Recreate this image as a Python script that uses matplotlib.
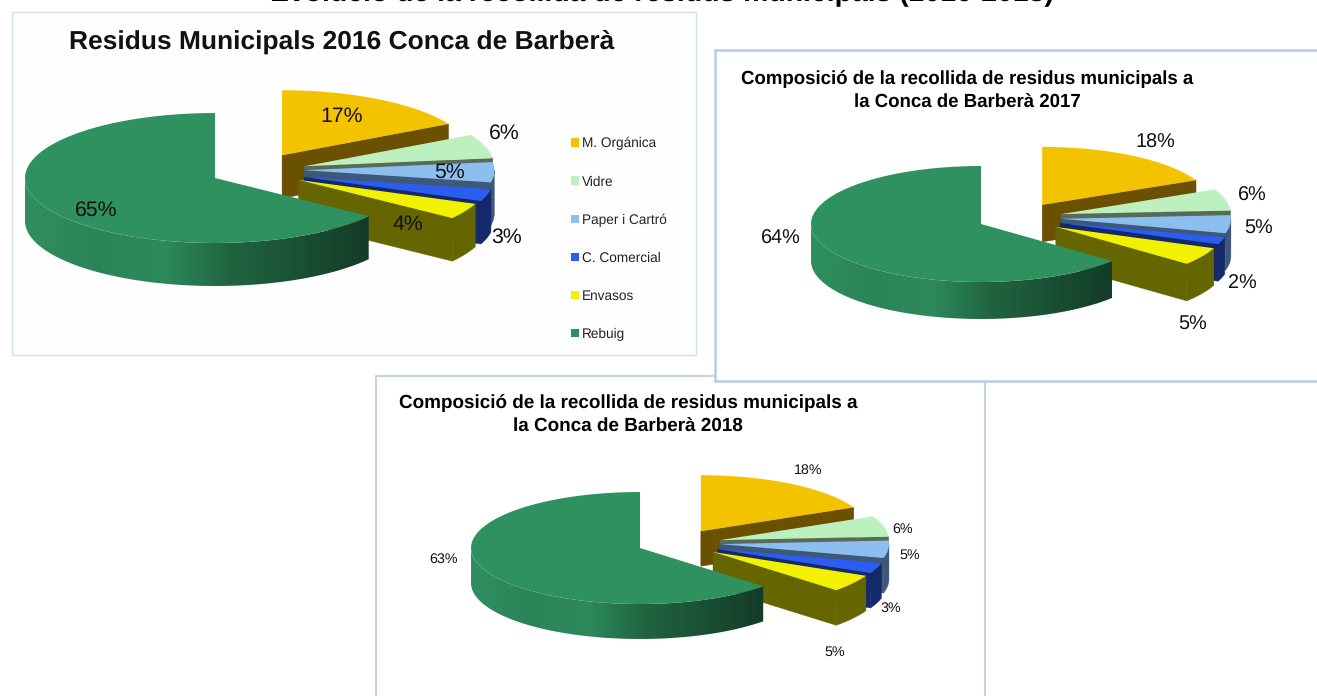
import numpy as np
import matplotlib
matplotlib.use("Agg")
import matplotlib.pyplot as plt
from matplotlib.patches import Patch, Polygon, Rectangle
from matplotlib.colors import LinearSegmentedColormap

plt.rcParams['font.family'] = ['Liberation Sans', 'DejaVu Sans']
plt.rcParams['text.hinting'] = 'no_hinting'

categories = ['M. Orgánica', 'Vidre', 'Paper i Cartró', 'C. Comercial', 'Envasos', 'Rebuig']
values_2016 = [17, 6, 5, 3, 4, 65]
values_2017 = [18, 6, 5, 2, 5, 64]
values_2018 = [18, 6, 5, 3, 5, 63]

main_title = 'Evolució de la recollida de residus municipals (2016-2018)'
title_2016 = 'Residus Municipals 2016 Conca de Barberà'
title_2017 = 'Composició de la recollida de residus municipals a\nla Conca de Barberà 2017'
title_2018 = 'Composició de la recollida de residus municipals a\nla Conca de Barberà 2018'

top_colors = ['#F4C300', '#BDF0BF', '#8DBEF0', '#2B5DF0', '#F2F200', '#2F9160']
wall_colors = ['#6B5000', '#566B58', '#3D5878', '#14296B', '#666600', '#2F8F60']
green_wall = LinearSegmentedColormap.from_list(
    'gw', ['#2F8F60', '#2B8458', '#2D8A5C', '#20643F', '#1A5035', '#133C28'])

W, H = 1317, 696
fig = plt.figure(figsize=(W / 100, H / 100), dpi=100, facecolor='white')
ax = fig.add_axes([0, 0, 1, 1])
ax.axis('off')


def arc(cx, cy, rx, ry, a0, a1, n=80):
    t = np.radians(np.linspace(a0, a1, n))
    return np.column_stack([cx + rx * np.sin(t), cy - ry * np.cos(t)])


def pie3d(values, cx, cy, rx, ry, depth, offsets, z):
    edges = np.concatenate([[0], np.cumsum(values)]) / np.sum(values) * 360
    for i, (a0, a1) in enumerate(zip(edges[:-1], edges[1:])):
        dx, dy = offsets[i]
        x0, y0 = cx + dx * rx, cy + dy * ry
        zz = z + i * 0.1
        down = np.array([0, depth])
        apex = np.array([x0, y0])
        # radial face at the clockwise end of the slice
        if a1 < 180:
            tip = arc(x0, y0, rx, ry, a1, a1, 1)[0]
            ax.add_patch(Polygon([apex, tip, tip + down, apex + down],
                                 fc=wall_colors[i], ec=wall_colors[i], lw=0.3, zorder=zz))
        # outer wall, only the part that faces the viewer
        w0, w1 = max(a0, 90), min(a1, 270)
        if w1 > w0:
            p = arc(x0, y0, rx, ry, w0, w1)
            wall = np.vstack([p, (p + down)[::-1]])
            if i == len(values) - 1:
                poly = Polygon(wall, fc='none', ec='none', zorder=zz)
                ax.add_patch(poly)
                ramp = np.linspace(0, 1, 256)[None, :]
                im = ax.imshow(ramp, cmap=green_wall, aspect='auto', zorder=zz,
                               extent=[p[:, 0].min(), p[:, 0].max(),
                                       wall[:, 1].max(), wall[:, 1].min()])
                im.set_clip_path(poly)
            else:
                ax.add_patch(Polygon(wall, fc=wall_colors[i], ec=wall_colors[i],
                                     lw=0.3, zorder=zz))
        # top face
        p = arc(x0, y0, rx, ry, a0, a1)
        ax.add_patch(Polygon(np.vstack([apex, p]), fc=top_colors[i], ec='none', zorder=zz + 0.05))


def frame(x0, y0, x1, y1, color, lw, z, fc='white'):
    ax.add_patch(Rectangle((x0, y0), x1 - x0, y1 - y0, fc=fc, ec=color, lw=lw, zorder=z))


# slice offsets as fractions of the radii
off16 = [(0.353, -0.35), (0.47, -0.18), (0.47, -0.12), (0.47, -0.015), (0.44, 0.03), (0, 0)]
off17 = [(0.36, -0.33), (0.47, -0.17), (0.47, -0.09), (0.465, -0.02), (0.44, 0.05), (0, 0)]
off18 = [(0.36, -0.30), (0.473, -0.14), (0.473, -0.07), (0.46, 0.02), (0.432, 0.07), (0, 0)]

# chart frames
frame(11.5, 12, 695.5, 355, '#CFE0EE', 1.0, 1, fc='#FEFEFE')
frame(375.5, 375.5, 985, 705, '#B8CCE4', 1.2, 2)
frame(714.5, 49.5, 1325, 381, '#B8CCE4', 1.8, 20)

pie3d(values_2016, 215, 178, 190, 65, 43, off16, 5)
pie3d(values_2017, 981, 224, 170, 58, 37, off17, 25)
pie3d(values_2018, 640, 548, 169, 56, 35, off18, 10)

ax.set_xlim(0, W)
ax.set_ylim(H, 0)

# titles
ax.text(662, 1.5, main_title, fontsize=20.4, fontweight='bold', ha='center', va='baseline', zorder=30)
ax.text(342, 42, title_2016, fontsize=19, fontweight='bold', ha='center', va='center',
        color='#111111', zorder=30)
ax.text(967, 91, title_2017, fontsize=13.45, fontweight='bold', ha='center', va='center',
        linespacing=1.5, zorder=30)
ax.text(628, 415, title_2018, fontsize=13.6, fontweight='bold', ha='center', va='center',
        linespacing=1.5, zorder=30)


def labels(vals, pos, size, color='#111111'):
    for v, (x, y) in zip(vals, pos):
        ax.text(x, y, f'{v}%', fontsize=size, ha='center', va='center', color=color, zorder=40)


labels(values_2016, [(342, 116), (504, 133), (449, 172), (507, 237), (408, 224), (96, 210)], 15.3)
labels(values_2017, [(1155, 143), (1252, 196), (1259, 229), (1242, 284), (1193, 325), (781, 239)], 14.3)
labels(values_2018, [(808, 470), (903, 529), (910, 555), (891, 608), (835, 652), (444, 559)], 10.3)

# legend of the 2016 chart
handles = [Patch(fc=c, ec='none', label=n) for c, n in zip(top_colors, categories)]
leg = ax.legend(handles=handles, loc='upper left', bbox_to_anchor=(571, 137),
                bbox_transform=ax.transData, frameon=False, fontsize=9.8,
                handlelength=0.6, handleheight=0.6, handletextpad=0.2,
                labelspacing=1.84, borderpad=0, borderaxespad=0, labelcolor='#222222')
leg.set_zorder(40)

fig.savefig('out.png', dpi=100)
